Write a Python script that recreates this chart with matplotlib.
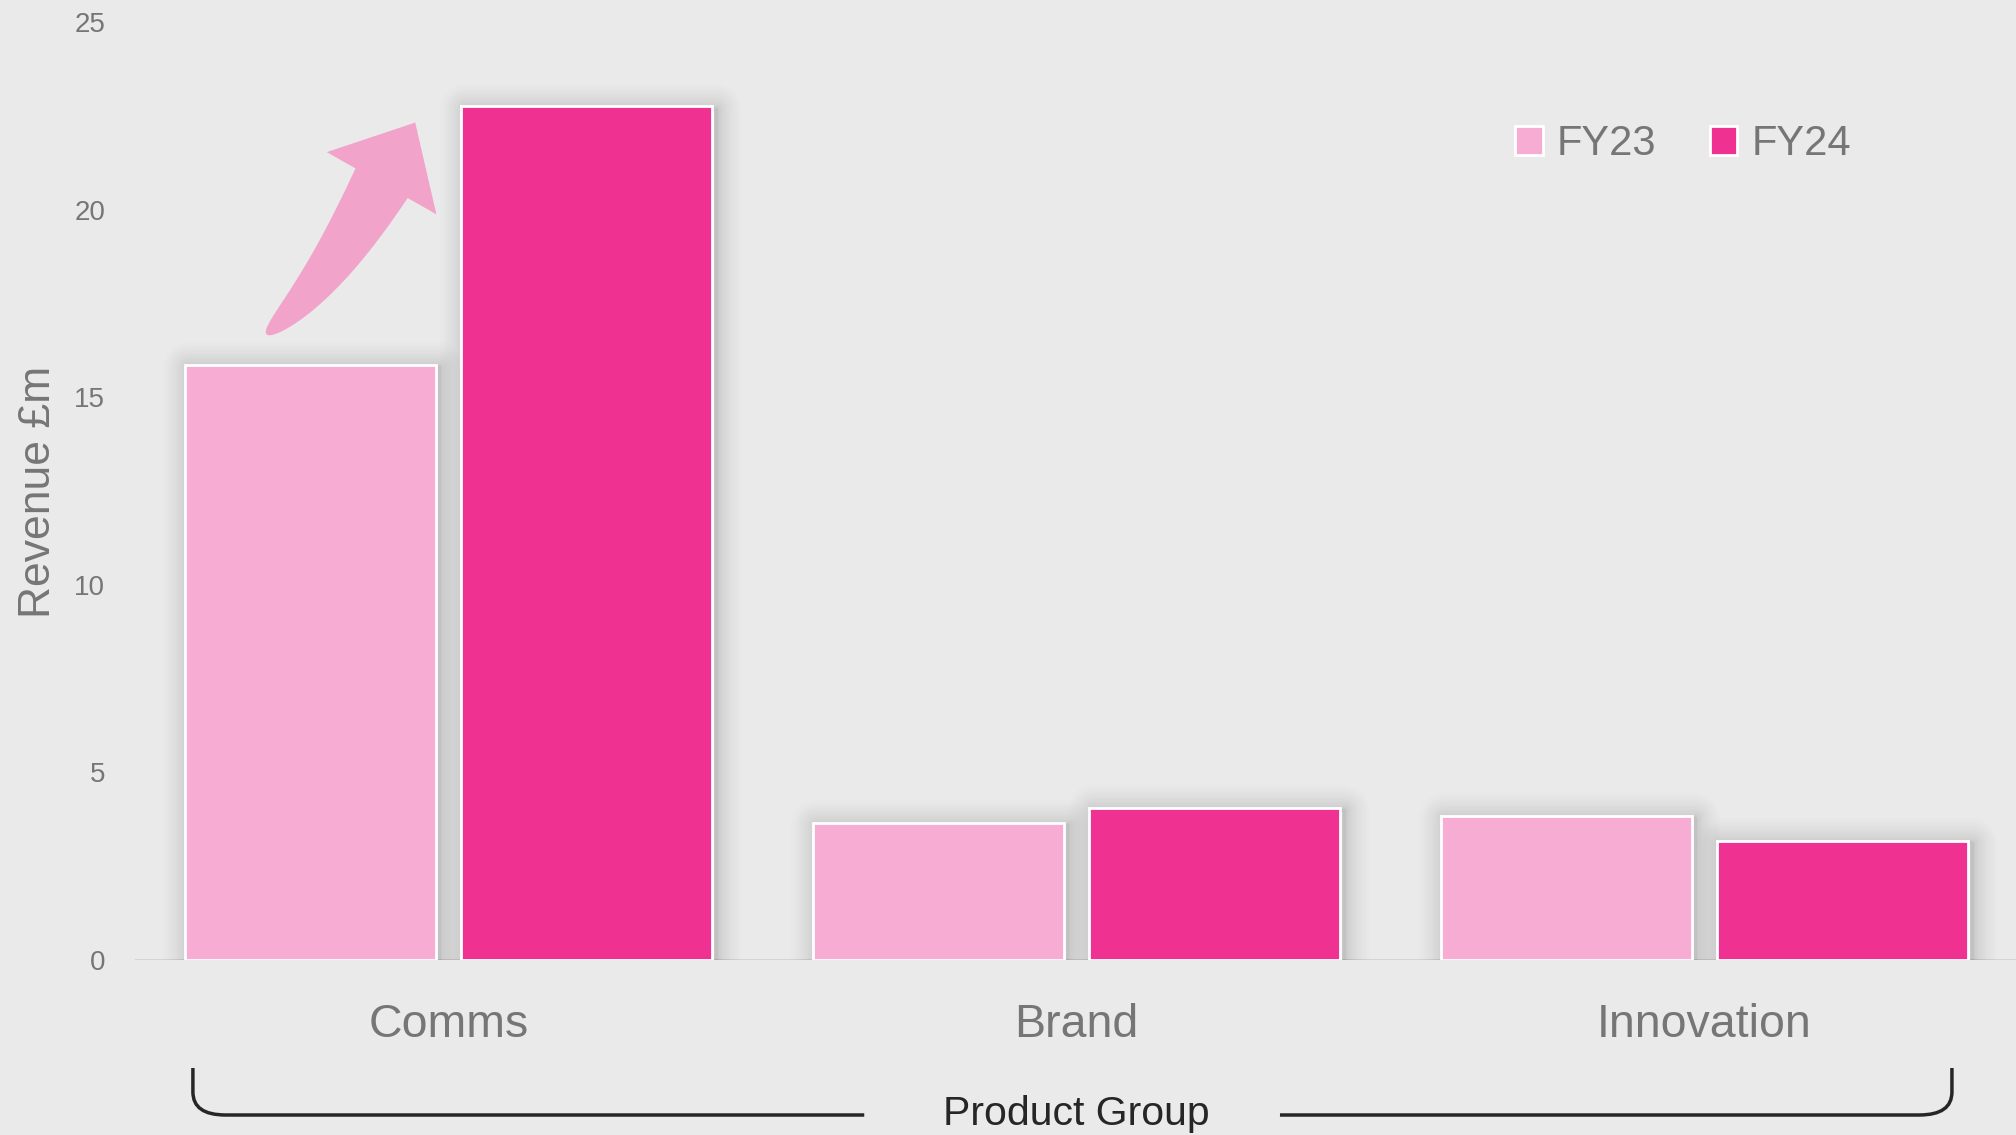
import numpy as np
import matplotlib
matplotlib.use("Agg")
import matplotlib.pyplot as plt
import matplotlib.patheffects as pe
from matplotlib.patches import Patch, Polygon, PathPatch
from matplotlib.path import Path
from matplotlib.transforms import IdentityTransform, blended_transform_factory

categories = ["Comms", "Brand", "Innovation"]
series_labels = ["FY23", "FY24"]
fy23 = [15.85, 3.65, 3.85]
fy24 = [22.75, 4.05, 3.17]
yticks = [0, 5, 10, 15, 20, 25]

BG = "#EAEAEA"
C23 = "#F7ACD3"
C24 = "#EF3292"
ARROW = "#F1A3C9"
TXT = "#767676"
DARK = "#262626"

W, H = 2016, 1135


def curved_arrow(ax, start, end, a0, a1, tail_w, head_w, head_l, color):
    # tapered, curved block arrow built in pixel space (cubic centre line)
    p0 = ax.transData.transform(start)
    p3 = ax.transData.transform(end)
    k = np.hypot(*(p3 - p0)) / 3
    p1 = p0 + k * np.array([np.cos(np.radians(a0)), np.sin(np.radians(a0))])
    p2 = p3 - k * np.array([np.cos(np.radians(a1)), np.sin(np.radians(a1))])
    s = np.linspace(0, 1, 400)[:, None]
    pts = ((1 - s) ** 3 * p0 + 3 * (1 - s) ** 2 * s * p1
           + 3 * (1 - s) * s ** 2 * p2 + s ** 3 * p3)
    dist = np.hypot(*(pts - p3).T)
    nb = int(np.argmax(dist < head_l))
    shaft = pts[:nb + 1]
    tang = np.gradient(shaft, axis=0)
    tang /= np.hypot(*tang.T)[:, None]
    norm = np.column_stack([-tang[:, 1], tang[:, 0]])
    frac = np.linspace(0, 1, len(shaft))[:, None]
    half = tail_w / 2 * frac ** 0.5
    left = shaft + norm * half
    right = shaft - norm * half
    base, n = shaft[-1], norm[-1]
    poly = np.vstack([left, base + n * head_w / 2, p3, base - n * head_w / 2, right[::-1]])
    ax.figure.add_artist(Polygon(poly, closed=True, fc=color, ec="none",
                                 transform=IdentityTransform(), zorder=4))


def main():
    plt.rcParams["font.family"] = ["Liberation Sans", "DejaVu Sans"]

    fig = plt.figure(figsize=(W / 100, H / 100), dpi=100, facecolor=BG)
    ax = fig.add_axes([134.5 / W, 1 - 960 / H, 1884 / W, (960 - 22) / H])
    ax.set_facecolor(BG)

    x = np.arange(len(categories))
    bw = 0.40
    off = 0.22

    # soft shadow under the bars: stacked faint strokes, denser close to the edge
    widths = 2 + 34 * np.linspace(0, 1, 20) ** 2
    glow = [pe.Stroke(linewidth=lw, foreground="black", alpha=0.0085, offset=(2.5, -1.5),
                      joinstyle="round") for lw in widths]
    for vals, xs in ((fy23, x - off), (fy24, x + off)):
        for b in ax.bar(xs, vals, bw, color=BG, linewidth=0, zorder=1):
            b.set_path_effects(glow)

    ax.axhline(0, color="#D5D5D5", linewidth=2.2, zorder=0.5)
    ax.bar(x - off, fy23, bw, color=C23, edgecolor="white", linewidth=2, zorder=2)
    ax.bar(x + off, fy24, bw, color=C24, edgecolor="white", linewidth=2, zorder=2)

    ax.set_xlim(-0.5, 2.5)
    ax.set_ylim(0, 25)
    ax.set_yticks(yticks)
    ax.set_xticks(x)
    ax.set_xticklabels(categories)
    for sp in ax.spines.values():
        sp.set_visible(False)
    ax.tick_params(axis="y", length=0, pad=21, labelsize=20, labelcolor=TXT)
    ax.tick_params(axis="x", length=0, pad=31, labelsize=33.5, labelcolor=TXT)

    fig.text(39 / W, 1 - 492 / H, "Revenue £m", rotation=90, ha="center", va="center",
             fontsize=32, color=TXT)

    handles = [Patch(facecolor=C23, edgecolor="white", linewidth=2),
               Patch(facecolor=C24, edgecolor="white", linewidth=2)]
    fig.legend(handles, series_labels, loc="center left",
               bbox_to_anchor=(1515 / W, 1 - 144 / H), ncol=2, frameon=False,
               fontsize=30, handlelength=0.67, handleheight=0.67, handletextpad=0.34,
               columnspacing=1.27, borderpad=0, borderaxespad=0, labelcolor=TXT)

    # growth arrow from FY23 to FY24 Comms bar
    curved_arrow(ax, (x[0] - 0.29, fy23[0] + 0.83), (x[0] - 0.053, fy24[0] - 0.43),
                 a0=40, a1=61, tail_w=60, head_w=126, head_l=70, color=ARROW)

    # bracket under the categories
    blend = blended_transform_factory(ax.transData, fig.transFigure)
    yt, ym, yb = 1 - 1068 / H, 1 - 1092 / H, 1 - 1115 / H
    x0, x1 = -0.407, 2.394
    gl, gr = 0.662, 1.324
    r = 0.052
    left = Path([(x0, yt), (x0, ym), (x0, yb), (x0 + r, yb), (gl, yb)],
                [Path.MOVETO, Path.LINETO, Path.CURVE3, Path.CURVE3, Path.LINETO])
    right = Path([(x1, yt), (x1, ym), (x1, yb), (x1 - r, yb), (gr, yb)],
                 [Path.MOVETO, Path.LINETO, Path.CURVE3, Path.CURVE3, Path.LINETO])
    for p in (left, right):
        fig.add_artist(PathPatch(p, fill=False, edgecolor=DARK, linewidth=2.5,
                                 transform=blend, capstyle="butt"))
    fig.text(1.0, 1 - 1125 / H, "Product Group", transform=blend, ha="center",
             va="baseline", fontsize=29.5, color=DARK)

    fig.savefig("out.png", dpi=100, facecolor=BG)
    plt.close(fig)


if __name__ == "__main__":
    main()
